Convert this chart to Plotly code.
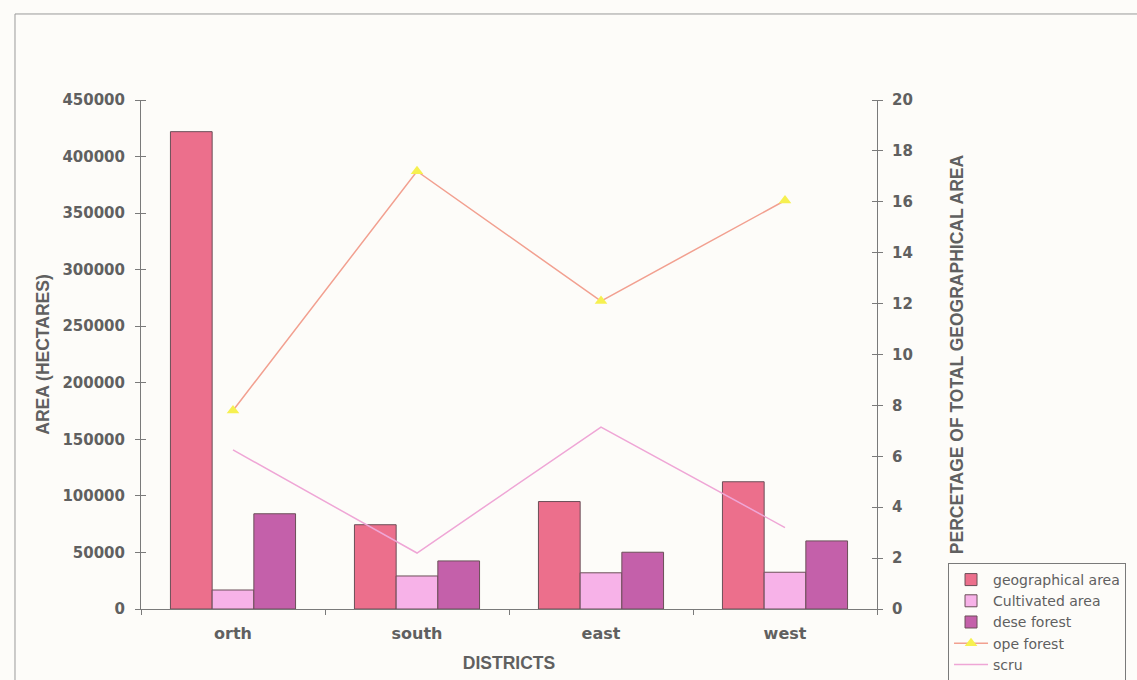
import plotly.graph_objects as go

districts = ["orth", "south", "east", "west"]
geographical_area = [422000, 74500, 95000, 112500]
cultivated_area = [16800, 29200, 32000, 32500]
dese_forest = [84200, 42500, 50200, 60200]
ope_forest_pct = [7.8, 17.2, 12.1, 16.05]
scru_pct = [6.25, 2.2, 7.15, 3.2]

left_ticks = list(range(0, 450001, 50000))
right_ticks = list(range(0, 21, 2))

ARIAL = "Arial, Liberation Sans, sans-serif"
WIDE = "DejaVu Sans, Verdana, sans-serif"
TXT = "#606060"
AX = "#7a7a7a"
EDGE = "#6b4f58"
BG = "#fdfcf9"

fig = go.Figure()
fig.add_trace(go.Bar(name="geographical area", x=districts, y=geographical_area,
                     marker=dict(color="#ec6f8c", line=dict(color=EDGE, width=1))))
fig.add_trace(go.Bar(name="Cultivated area", x=districts, y=cultivated_area,
                     marker=dict(color="#f7b2e8", line=dict(color=EDGE, width=1))))
fig.add_trace(go.Bar(name="dese forest", x=districts, y=dese_forest,
                     marker=dict(color="#c460aa", line=dict(color=EDGE, width=1))))
fig.add_trace(go.Scatter(name="ope forest", x=districts, y=ope_forest_pct, yaxis="y2",
                         mode="lines+markers",
                         line=dict(color="#f2a090", width=1.5),
                         marker=dict(symbol="triangle-up", size=11, color="#f6f050",
                                     line=dict(width=0))))
fig.add_trace(go.Scatter(name="scru", x=districts, y=scru_pct, yaxis="y2",
                         mode="lines",
                         line=dict(color="#efa6d6", width=1.5)))

# small offsets so the inward half of each crossing tick is drawn as a minor tick
left_minor = [v + 1 for v in left_ticks]
right_minor = [v + 0.0001 for v in right_ticks]

tick_font = dict(size=15, family=WIDE, color=TXT, weight="bold")
title_font = dict(size=17.5, family=ARIAL, color=TXT, weight="bold")

fig.update_layout(
    width=1137, height=680,
    margin=dict(l=141, r=260, t=100, b=71, autoexpand=False),
    paper_bgcolor=BG, plot_bgcolor=BG,
    barmode="group", bargap=0.32, bargroupgap=0,
    font=dict(family=ARIAL, color=TXT),
    xaxis=dict(
        type="category", showline=True, linecolor=AX, linewidth=1,
        ticks="outside", ticklen=5, tickcolor=AX, tickson="boundaries",
        ticklabelstandoff=10,
        tickfont=dict(size=16, family=WIDE, color=TXT, weight="bold"),
        title=dict(text="DISTRICTS", font=title_font, standoff=14),
        showgrid=False, zeroline=False, automargin=False,
    ),
    yaxis=dict(
        range=[0, 450000], tickvals=left_ticks, tickformat="d",
        showline=True, linecolor=AX, linewidth=1,
        ticks="outside", ticklen=5, tickcolor=AX, ticklabelstandoff=7,
        minor=dict(tickvals=left_minor, ticks="inside", ticklen=5, tickcolor=AX, showgrid=False),
        tickfont=tick_font,
        title=dict(text="AREA (HECTARES)", font=title_font, standoff=8),
        showgrid=False, zeroline=False, automargin=False,
    ),
    yaxis2=dict(
        range=[0, 20], tickvals=right_ticks, overlaying="y", side="right",
        showline=True, linecolor=AX, linewidth=1,
        ticks="outside", ticklen=5, tickcolor=AX, ticklabelstandoff=6,
        minor=dict(tickvals=right_minor, ticks="inside", ticklen=5, tickcolor=AX, showgrid=False),
        tickfont=tick_font,
        title=dict(text="PERCETAGE OF TOTAL GEOGRAPHICAL AREA", font=title_font, standoff=38),
        showgrid=False, zeroline=False, automargin=False,
    ),
    legend=dict(
        x=1.0965, y=0.0904, xanchor="left", yanchor="top",
        bgcolor=BG, bordercolor=AX, borderwidth=1,
        font=dict(size=14, family=WIDE, color=TXT), itemwidth=34,
        traceorder="normal",
    ),
    showlegend=True,
)

# outer chart frame
fig.add_shape(type="rect", xref="paper", yref="paper",
              x0=-0.1712, x1=1.37, y0=-0.2, y1=1.169,
              line=dict(color="#9a9a9a", width=1), fillcolor="rgba(0,0,0,0)", layer="below")

fig.write_html("out.html")
